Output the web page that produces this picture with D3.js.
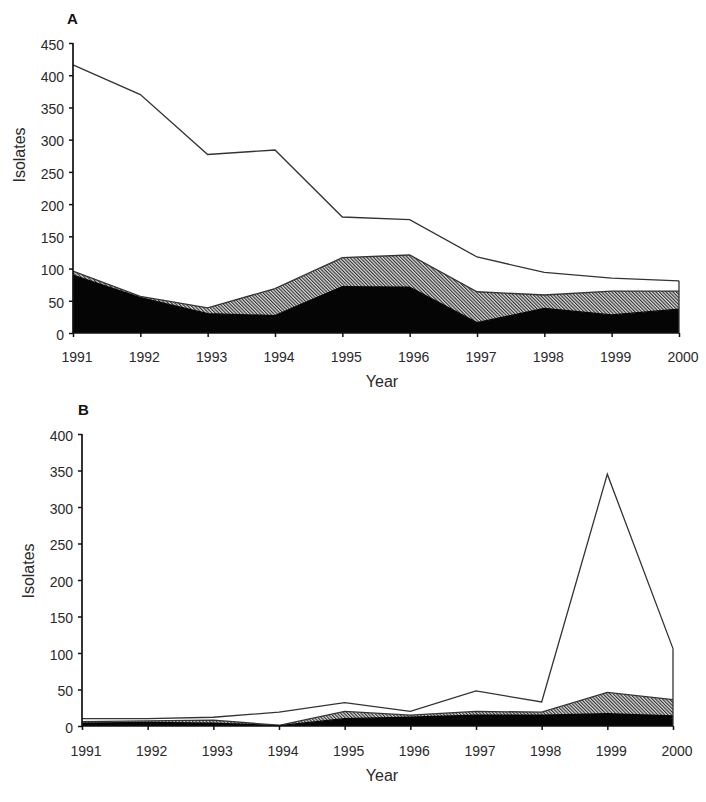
<!DOCTYPE html>
<html>
<head>
<meta charset="utf-8">
<script src="https://cdn.jsdelivr.net/npm/d3@7"></script>
<style>
  body { margin: 0; background: #fff; }
  svg { display: block; }
</style>
</head>
<body>
<svg id="chart" width="706" height="802"></svg>
<script>
// ---- Data ----
const years = [1991, 1992, 1993, 1994, 1995, 1996, 1997, 1998, 1999, 2000];

// Panel A: stacked series values (bottom -> top)
const aBlack   = [90, 55, 30, 27, 72, 71, 16, 38, 28, 37];
const aHatched = [6, 2, 9, 42, 45, 50, 48, 21, 37, 28];
const aWhite   = [320, 313, 238, 215, 63, 55, 54, 35, 20, 16];

// Panel B: stacked series values (bottom -> top)
const bBlack   = [4, 5, 4, 0.5, 10, 12, 15, 15, 17, 14];
const bHatched = [2, 2, 4, 0.5, 10, 3, 5, 4, 29, 22];
const bWhite   = [4, 3, 4, 18, 12, 5, 28, 14, 299, 70];

const aTicks = [0, 50, 100, 150, 200, 250, 300, 350, 400, 450];
const bTicks = [0, 50, 100, 150, 200, 250, 300, 350, 400];

const FONT = "Liberation Sans, Arial, sans-serif";
const svg = d3.select("#chart");

// hatch pattern (stripes running top-left to bottom-right)
const defs = svg.append("defs");
const pat = defs.append("pattern")
  .attr("id", "hatch")
  .attr("patternUnits", "userSpaceOnUse")
  .attr("width", 2.4).attr("height", 2.4)
  .attr("patternTransform", "rotate(-45)");
pat.append("rect").attr("width", 2.4).attr("height", 2.4).attr("fill", "#dcdcdc");
pat.append("rect").attr("x", 0).attr("y", 0).attr("width", 1.1).attr("height", 2.4).attr("fill", "#2e2e2e");

function panel(opts) {
  const { label, black, hatched, white, ticks, yMax, x0, x1, yTop, yBottom,
          labelX, labelY, isoX, isoY, yearX, yearY, xPad } = opts;
  const rows = years.map((yr, i) => ({ year: yr, black: black[i], hatched: hatched[i], white: white[i] }));
  const series = d3.stack().keys(["black", "hatched", "white"])(rows);

  const x = d3.scaleLinear().domain([years[0], years[years.length - 1]]).range([x0, x1]);
  const y = d3.scaleLinear().domain([0, yMax]).range([yBottom, yTop]);

  const g = svg.append("g");

  const area = d3.area()
    .x(d => x(d.data.year))
    .y0(d => y(d[0]))
    .y1(d => y(d[1]));

  const fills = { black: "#050505", hatched: "url(#hatch)", white: "#ffffff" };

  series.forEach(s => {
    g.append("path").datum(s).attr("d", area)
      .attr("fill", fills[s.key]).attr("stroke", "none");
  });

  const topLine = d3.line().x(d => x(d.data.year)).y(d => y(d[1]));
  series.forEach(s => {
    g.append("path").datum(s).attr("d", topLine)
      .attr("fill", "none")
      .attr("stroke", s.key === "black" ? "#050505" : "#333")
      .attr("stroke-width", 1.3);
  });
  const last = series[2][series[2].length - 1];
  g.append("line")
    .attr("x1", x(years[years.length - 1])).attr("x2", x(years[years.length - 1]))
    .attr("y1", y(0)).attr("y2", y(last[1]))
    .attr("stroke", "#333").attr("stroke-width", 1.3);

  // axes
  const yAxis = d3.axisLeft(y).tickValues(ticks).tickSize(4).tickPadding(5).tickFormat(d3.format("d"));
  const gy = g.append("g").attr("transform", `translate(${x0},0)`).call(yAxis);
  const xAxis = d3.axisBottom(x).tickValues(years).tickSize(4).tickPadding(xPad).tickFormat(d3.format("d"));
  const gx = g.append("g").attr("transform", `translate(0,${yBottom})`).call(xAxis);
  [gy, gx].forEach(ax => {
    ax.attr("font-family", FONT).attr("font-size", 14);
    ax.select(".domain").attr("stroke", "#111").attr("stroke-width", 1.7);
    ax.selectAll(".tick line").attr("stroke", "#111").attr("stroke-width", 1.5);
    ax.selectAll(".tick text").attr("fill", "#2a2a2a");
  });
  gx.selectAll(".tick text").attr("dx", 3.5);
  gy.selectAll(".tick text").attr("dy", "0.45em");
  gy.select(".domain").attr("d", `M0,${yBottom}V${yTop}`);
  gx.select(".domain").attr("d", `M${x0},0H${x1}`);

  // labels
  g.append("text").attr("x", labelX).attr("y", labelY)
    .attr("font-family", FONT).attr("font-size", 15).attr("font-weight", "bold")
    .attr("fill", "#111").text(label);
  g.append("text")
    .attr("transform", `translate(${isoX},${isoY}) rotate(-90)`)
    .attr("text-anchor", "middle").attr("font-family", FONT).attr("font-size", 16)
    .attr("fill", "#2a2a2a").text("Isolates");
  g.append("text").attr("x", yearX).attr("y", yearY)
    .attr("text-anchor", "middle").attr("font-family", FONT).attr("font-size", 16)
    .attr("fill", "#2a2a2a").text("Year");
}

panel({
  label: "A", black: aBlack, hatched: aHatched, white: aWhite, ticks: aTicks, yMax: 450,
  x0: 73, x1: 679, yTop: 43, yBottom: 333, xPad: 15,
  labelX: 67, labelY: 24, isoX: 25, isoY: 155, yearX: 382, yearY: 387
});

panel({
  label: "B", black: bBlack, hatched: bHatched, white: bWhite, ticks: bTicks, yMax: 400,
  x0: 82, x1: 673, yTop: 434, yBottom: 726, xPad: 16,
  labelX: 78, labelY: 415, isoX: 34, isoY: 571, yearX: 382, yearY: 781
});
</script>
</body>
</html>
